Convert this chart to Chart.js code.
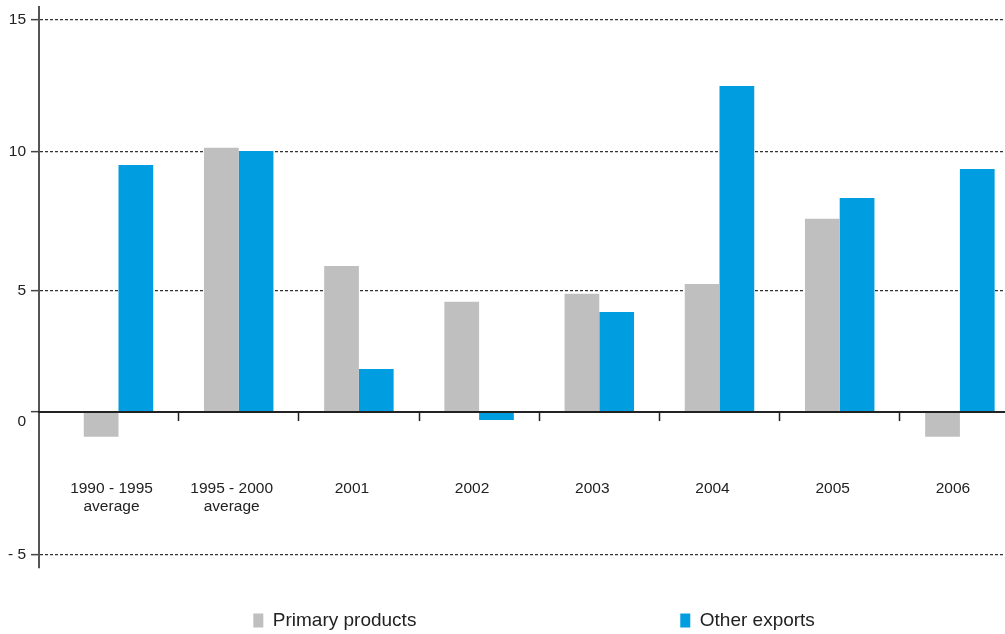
<!DOCTYPE html>
<html>
<head>
<meta charset="utf-8">
<script src="https://cdn.jsdelivr.net/npm/chart.js"></script>
<style>
  html, body { margin: 0; padding: 0; background: #ffffff; overflow: hidden; }
  #wrap { position: relative; width: 1005px; height: 634px; }
</style>
</head>
<body>
<div id="wrap"><canvas id="chart"></canvas></div>
<script>
// ---- data ----
const CATEGORIES = [['1990 - 1995', 'average'], ['1995 - 2000', 'average'], '2001', '2002', '2003', '2004', '2005', '2006'];
const SERIES_NAMES = ['Primary products', 'Other exports'];
const PRIMARY = [-0.87, 10.15, 5.88, 4.53, 4.86, 5.23, 7.58, -0.87];
const OTHER = [9.52, 10.03, 1.76, -0.29, 4.11, 12.49, 8.33, 9.38];
const Y_TICKS = [15, 10, 5, 0, -5];
const Y_TICK_LABELS = ['15', '10', '5', '0', '- 5'];

// ---- scale layout (the reference axis is not evenly spaced) ----
const Y_SCALE_BREAKS = [[15, 0.0232], [10, 0.2579], [5, 0.5053], [0, 0.7214], [-5, 0.9768]];

class PiecewiseLinearScale extends Chart.LinearScale {
  static id = 'piecewise';
  static defaults = {};
  getPixelForValue(value) {
    if (value === null || value === undefined || isNaN(value)) return NaN;
    const b = Y_SCALE_BREAKS;
    let i = 0;
    while (i < b.length - 2 && value < b[i + 1][0]) i++;
    const [v0, f0] = b[i], [v1, f1] = b[i + 1];
    const f = f0 + (value - v0) * (f1 - f0) / (v1 - v0);
    return this.top + f * (this.bottom - this.top);
  }
  getValueForPixel(pixel) {
    const b = Y_SCALE_BREAKS;
    const f = (pixel - this.top) / (this.bottom - this.top);
    let i = 0;
    while (i < b.length - 2 && f > b[i + 1][1]) i++;
    const [v0, f0] = b[i], [v1, f1] = b[i + 1];
    return v0 + (f - f0) * (v1 - v0) / (f1 - f0);
  }
}
Chart.register(PiecewiseLinearScale);

const FONT = 'Liberation Sans, Arial, Helvetica, sans-serif';
const X_MIN = -0.6614, X_MAX = 7.3752;
const LEGEND_GAPS = [28, 30];
const noSidePadding = (s) => { s.paddingLeft = 0; s.paddingRight = 0; };

const ctx = document.getElementById('chart').getContext('2d');
new Chart(ctx, {
  type: 'bar',
  data: {
    datasets: [
      {
        label: SERIES_NAMES[0],
        data: PRIMARY.map((v, i) => ({ x: i, y: v })),
        backgroundColor: '#bfbfbf',
        borderWidth: 0,
        xAxisID: 'x', yAxisID: 'y'
      },
      {
        label: SERIES_NAMES[1],
        data: OTHER.map((v, i) => ({ x: i, y: v })),
        backgroundColor: '#009ee0',
        borderWidth: 0,
        xAxisID: 'x', yAxisID: 'y'
      }
    ]
  },
  options: {
    responsive: true,
    maintainAspectRatio: false,
    animation: false,
    devicePixelRatio: 1,
    categoryPercentage: 0.578,
    barPercentage: 1.0,
    layout: { padding: { top: 7, left: 0, right: 0, bottom: 0 } },
    plugins: {
      tooltip: { enabled: false },
      legend: {
        position: 'bottom',
        align: 'start',
        maxHeight: 66,
        onClick: null,
        labels: {
          padding: 43,
          boxWidth: 10,
          boxHeight: 14,
          color: '#222222',
          font: { family: FONT, size: 19 },
          generateLabels(chart) {
            const items = Chart.defaults.plugins.legend.labels.generateLabels(chart);
            const spacer = (n) => ({
              text: '\u00A0'.repeat(n),
              fillStyle: 'rgba(0,0,0,0)',
              strokeStyle: 'rgba(0,0,0,0)',
              lineWidth: 0,
              hidden: false,
              datasetIndex: -1
            });
            return [spacer(LEGEND_GAPS[0]), items[0], spacer(LEGEND_GAPS[1]), items[1]];
          }
        }
      }
    },
    scales: {
      x: {
        type: 'linear',
        axis: 'x',
        min: X_MIN,
        max: X_MAX,
        offset: false,
        position: { y: 0 },
        grid: { display: false, offset: false },
        border: { display: false },
        afterBuildTicks: (s) => { s.ticks = CATEGORIES.map((c, i) => ({ value: i })); },
        afterFit: noSidePadding,
        ticks: {
          autoSkip: false,
          maxRotation: 0,
          minRotation: 0,
          padding: 60,
          labelOffset: -7,
          color: '#222222',
          font: { family: FONT, size: 15.5, lineHeight: 1.17 },
          callback: (v) => CATEGORIES[Math.round(v)]
        }
      },
      xt: {
        type: 'linear',
        axis: 'x',
        min: X_MIN,
        max: X_MAX,
        offset: false,
        position: { y: 0 },
        afterBuildTicks: (s) => { s.ticks = CATEGORIES.slice(1).map((c, i) => ({ value: i + 0.5 })); },
        afterFit: noSidePadding,
        grid: {
          display: true,
          offset: false,
          drawOnChartArea: false,
          drawTicks: true,
          tickLength: 8,
          tickColor: '#222222',
          tickWidth: 1.5
        },
        border: { display: true, color: '#222222', width: 2, z: 1 },
        ticks: { display: false }
      },
      y: {
        type: 'piecewise',
        min: -5.45,
        max: 15.5,
        position: 'left',
        afterBuildTicks: (s) => { s.ticks = Y_TICKS.map((v) => ({ value: v })); },
        afterFit: (s) => { s.width = 39; s.paddingTop = 0; s.paddingBottom = 0; },
        grid: {
          color: '#333333',
          lineWidth: 1.3,
          tickLength: 8,
          tickColor: '#444444',
          tickWidth: 1.5,
          tickBorderDash: []
        },
        border: { display: true, color: '#555555', width: 2, dash: [3, 2] },
        ticks: {
          padding: 5,
          color: '#222222',
          font: { family: FONT, size: 15.5, lineHeight: 1.3 },
          callback: (v) => {
            const label = Y_TICK_LABELS[Y_TICKS.indexOf(v)];
            return v === 0 ? ['', label] : label;
          }
        }
      }
    }
  }
});
</script>
</body>
</html>
